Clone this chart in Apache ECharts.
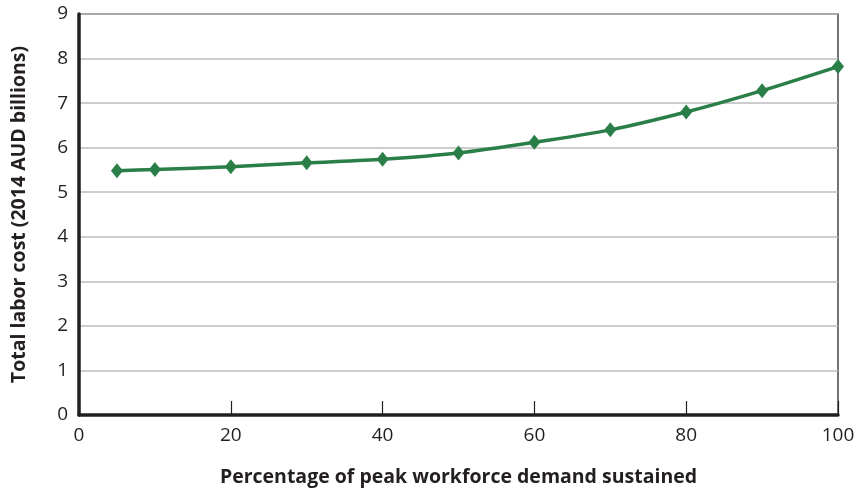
<!DOCTYPE html>
<html>
<head>
<meta charset="utf-8">
<script src="https://cdn.jsdelivr.net/npm/echarts@6/dist/echarts.min.js"></script>
<style>html,body{margin:0;padding:0;background:#fff;}#c{width:861px;height:496px;}</style>
</head>
<body>
<div id="c"></div>
<script>
const xValues = [5, 10, 20, 30, 40, 50, 60, 70, 80, 90, 100];
const laborCost = [5.48, 5.51, 5.57, 5.66, 5.74, 5.88, 6.12, 6.40, 6.80, 7.28, 7.82];
const xAxisName = 'Percentage of peak workforce demand sustained';
const yAxisName = 'Total labor cost (2014 AUD billions)';

const chart = echarts.init(document.getElementById('c'));
const font = '"Open Sans", "Noto Sans", sans-serif';
chart.setOption({
  animation: false,
  grid: { left: 79, right: 23, top: 14, bottom: 81, show: true, borderColor: '#444', borderWidth: 1.5 },
  xAxis: {
    type: 'value', min: 0, max: 100, interval: 20,
    name: xAxisName, nameLocation: 'middle', nameGap: 52,
    nameTextStyle: { fontFamily: font, fontSize: 19.5, fontWeight: 'bold', color: '#231f20' },
    axisLine: { show: true, lineStyle: { color: '#231f20', width: 3.5 } },
    axisTick: { show: true, inside: true, length: 14, lineStyle: { color: '#231f20', width: 1.2 } },
    axisLabel: { fontFamily: font, fontSize: 19, color: '#231f20', margin: 11 },
    splitLine: { show: false }
  },
  yAxis: {
    type: 'value', min: 0, max: 9, interval: 1,
    name: yAxisName, nameLocation: 'middle', nameGap: 50,
    nameTextStyle: { fontFamily: font, fontSize: 19.5, fontWeight: 'bold', color: '#231f20' },
    axisLine: { show: true, lineStyle: { color: '#231f20', width: 3.5 } },
    axisTick: { show: false },
    axisLabel: { fontFamily: font, fontSize: 19, color: '#231f20', margin: 11 },
    splitLine: { show: true, lineStyle: { color: '#bdbdbd', width: 1.5 } }
  },
  series: [{
    type: 'line',
    data: xValues.map((x, i) => [x, laborCost[i]]),
    smooth: 0.25,
    symbol: 'diamond',
    symbolSize: [12, 15],
    itemStyle: { color: '#2a7e47' },
    lineStyle: { color: '#2a7e47', width: 3.5 },
    clip: false
  }]
});
</script>
</body>
</html>
